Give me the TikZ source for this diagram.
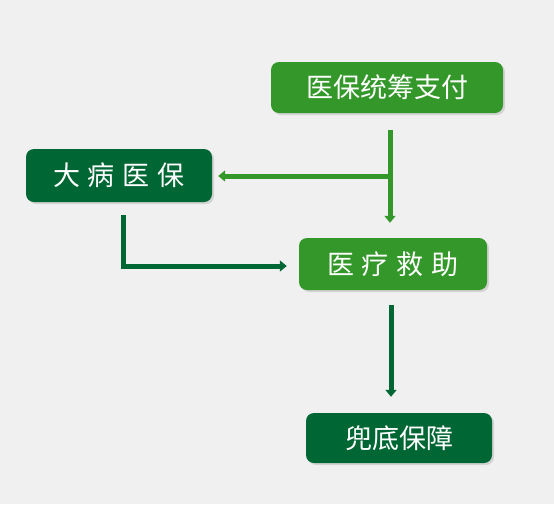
\documentclass[tikz,border=0pt]{standalone}
\usepackage{fontspec}
\newfontfamily\cjk{Noto Sans CJK SC}
\usepackage{tikz}
\usetikzlibrary{arrows.meta,shadows}
\definecolor{lightgreen}{RGB}{51,151,41}
\definecolor{darkgreen}{RGB}{0,102,51}
\definecolor{bggray}{RGB}{240,240,240}
\tikzset{
  box/.style={rounded corners=8pt, text=white, inner sep=0pt,
    font=\cjk\fontsize{27}{30}\selectfont,
    drop shadow={shadow xshift=2pt, shadow yshift=-2pt, opacity=0.25}},
  flow/.style={line width=5pt, -{Triangle[width=11pt,length=7pt]}}
}

\begin{document}
\begin{tikzpicture}[x=1pt,y=-1pt]
            \fill[bggray] (0,0) rectangle (554,504);
            \node[box, fill=lightgreen, minimum width=232pt, minimum height=51pt] (pay) at (387,87.5) {医保统筹支付};
            \node[box, fill=darkgreen, minimum width=186pt, minimum height=53pt] (illness) at (119,175.5) {大\hspace{8pt}病\hspace{8pt}医\hspace{8pt}保};
            \node[box, fill=lightgreen, minimum width=188pt, minimum height=52pt] (aid) at (393,264) {医\hspace{8pt}疗\hspace{8pt}救\hspace{8pt}助};
            \node[box, fill=darkgreen, minimum width=186pt, minimum height=50pt] (base) at (399,438) {兜底保障};
            \coordinate (split) at (390,176);
            \coordinate (bend) at (123,266);
            \draw[flow, lightgreen, shorten <=17pt, shorten >=15pt] (pay.south -| split) -- (aid.north -| split);
            \draw[flow, lightgreen, shorten >=6pt] ([xshift=2.5pt]split) -- (illness.east |- split);
            \draw[flow, darkgreen, shorten <=13pt, shorten >=12pt] (illness.south -| bend) -- (bend) -- (aid.west |- bend);
            \draw[flow, darkgreen, shorten <=15pt, shorten >=16pt] ([xshift=-2pt]aid.south) -- ([xshift=-2pt]aid.south |- base.north);
        \end{tikzpicture}
\end{document}
